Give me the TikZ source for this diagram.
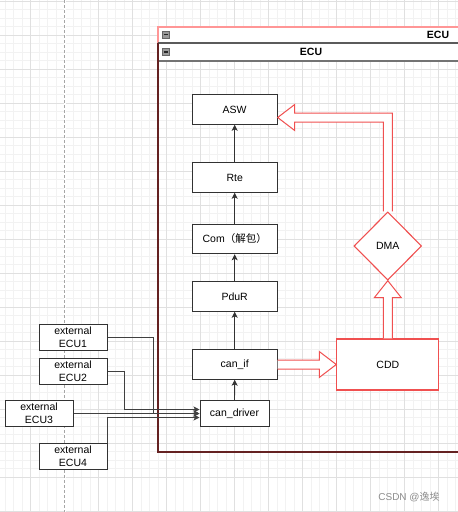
\documentclass[tikz,border=0pt]{standalone}
\usepackage{fontspec}
\setmainfont{Liberation Sans}
\newfontfamily\cjk{Noto Sans CJK SC}
\usepackage{tikz}
\usetikzlibrary{arrows.meta}
\usetikzlibrary{calc}
\usetikzlibrary{shapes.geometric}
\definecolor{drawred}{RGB}{240,80,80}
\definecolor{palered}{RGB}{255,150,150}
\definecolor{boxline}{RGB}{50,50,50}

\begin{document}
\begin{tikzpicture}
[x=1pt,y=-1pt,
  boxdecorate/.style={shape=rectangle,draw=boxline,fill=white,line width=1pt,
    minimum width=85pt,minimum height=29.5pt,inner sep=0pt,
    font=\fontsize{10.5}{12.7}\selectfont},
  drvdecorate/.style={boxdecorate,minimum width=69pt,minimum height=25.5pt},
  extdecorate/.style={boxdecorate,minimum width=68pt,minimum height=26pt,align=center},
  reddecorate/.style={boxdecorate,draw=drawred,line width=1.1pt},
  arrowdecorate/.style={-{Stealth[length=6pt,width=6pt,inset=1.5pt]},draw=boxline,line width=0.9pt},
  wiredecorate/.style={arrowdecorate,draw=black!75},
  flexdecorate/.style={draw=drawred,line width=1pt,line join=miter,fill=white},
  minorgrid/.style={draw=black!5,line width=0.6pt},
  majorgrid/.style={draw=black!12,line width=0.7pt}]
\clip (0,0) rectangle (458,512);
\fill[white] (0,0) rectangle (458,512);
%% background grid
\foreach \i in {0,...,56}
{
  \draw[minorgrid] ({30.7+(\i-4)*8.5},0) -- ++(0,512);
  \draw[minorgrid] (0,{1+\i*8.5}) -- ++(458,0);
}
\foreach \i in {0,...,15}
{
  \draw[majorgrid] ({30.7+(\i-1)*34},0) -- ++(0,512);
  \draw[majorgrid] (0,{1+\i*34}) -- ++(458,0);
}
\fill[white] (63.5,0) rectangle (66,512);
\draw[black!35,dashed,dash pattern=on 3pt off 2pt,line width=0.8pt] (64.7,0) -- (64.7,512);
%% ECU containers
\fill[white] (158,27) rectangle (470,61);
\draw[palered,line width=1.2pt] (470,27) -- (158,27) -- (158,452) -- (470,452);
\draw[boxline!80,line width=1.4pt] (158,43) -- (470,43);
\draw[black!55,line width=1.4pt] (158,61) -- (470,61);
\draw[black!40!drawred!70!black,line width=1.2pt] (158,43) -- (158,452) -- (470,452);
\foreach \y in {34.5,52}
{
  \draw[fill=black!40,draw=black!60,line width=0.5pt] (162.3,\y-3.7) rectangle (169.7,\y+3.7);
  \draw[black!85,line width=1.4pt] (163.6,\y) -- (168.4,\y);
}
\node[font=\bfseries\fontsize{10.5}{12}\selectfont] (outerecu) at (438,35) {ECU};
\node[font=\bfseries\fontsize{10.5}{12}\selectfont] (innerecu) at (311,52) {ECU};
%% nodes
\foreach \nodename/\x/\y/\text in {asw/234.7/109.5/ASW, rte/234.7/177.5/Rte,
  com/234.7/239/{Com{\cjk（解包）}}, pdur/234.7/296.5/PduR, canif/234.7/364.5/{can\_if}}
{
  \node (\nodename) at (\x,\y) [boxdecorate] {\text};
}
\node (candrv) at (234.5,413.5) [drvdecorate] {can\_driver};
\foreach \n/\x/\y in {1/73/337, 2/73/371, 3/39/413.5, 4/73/456}
{
  \node (ecu\n) at (\x,\y) [extdecorate] {external\\ECU\n};
}
\node (cdd) at (387.8,364.5) [reddecorate,minimum width=102pt,minimum height=51pt] {CDD};
\node (dma) at (387.8,246) [reddecorate,shape=diamond,minimum width=67.6pt,minimum height=68.3pt] {DMA};
\coordinate (aswin) at ([yshift=-8pt]asw.east);
%% edges
\path
\foreach \startnode/\endnode in {candrv/canif, canif/pdur, pdur/com, com/rte, rte/asw}
{
  (\startnode.north) edge[arrowdecorate] (\endnode.south)
};
\draw[wiredecorate] (ecu1.east) -- ++(46,0) |- (candrv.west);
\draw[wiredecorate] (ecu2.east) -- ++(17,0) |- ([yshift=4pt]candrv.west);
\draw[wiredecorate] (ecu3.east) -- (candrv.west);
\draw[wiredecorate] (ecu4.north east) |- ([yshift=-4pt]candrv.west);
%% hollow red arrows
\draw[flexdecorate] ([yshift=4.5pt]canif.east) -- ([xshift=-17pt,yshift=4.5pt]cdd.west)
  -- ([xshift=-17pt,yshift=13pt]cdd.west) -- (cdd.west)
  -- ([xshift=-17pt,yshift=-13pt]cdd.west) -- ([xshift=-17pt,yshift=-4.5pt]cdd.west)
  -- ([yshift=-4.5pt]canif.east);
\draw[flexdecorate] ([xshift=-4.5pt]cdd.north) -- ([xshift=-4.5pt,yshift=-17pt]dma.south)
  -- ([xshift=-13.5pt,yshift=-17pt]dma.south) -- (dma.south)
  -- ([xshift=13.5pt,yshift=-17pt]dma.south) -- ([xshift=4.5pt,yshift=-17pt]dma.south)
  -- ([xshift=4.5pt]cdd.north);
\draw[flexdecorate] ([xshift=-4.5pt]dma.north) |- ([xshift=17pt,yshift=-4.5pt]aswin)
  -- ([xshift=17pt,yshift=-13pt]aswin) -- (aswin)
  -- ([xshift=17pt,yshift=13pt]aswin) -- ([xshift=17pt,yshift=4.5pt]aswin)
  -| ([xshift=4.5pt]dma.north);
%% watermark
\node[text=black!45,font=\fontsize{10}{12}\selectfont] (mark) at (409,496.5) {CSDN @{\cjk 逸埃}};
\end{tikzpicture}
\end{document}
